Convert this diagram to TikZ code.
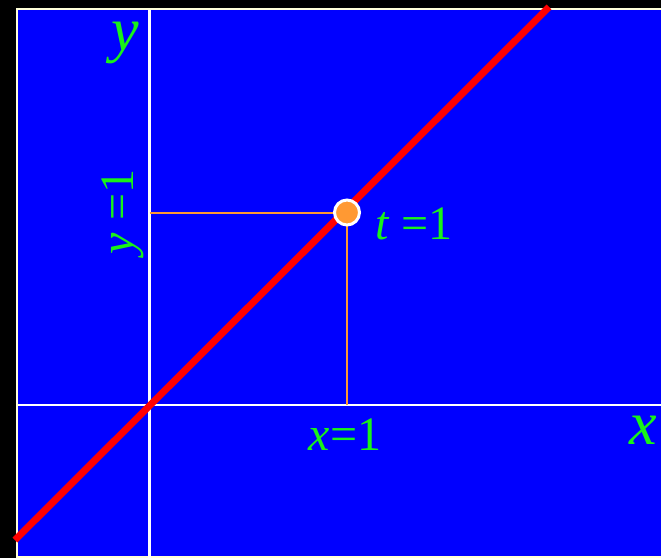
\documentclass[tikz,border=0pt]{standalone}
\usepackage{fontspec}
\setmainfont{Liberation Serif}
\usetikzlibrary{positioning}
\definecolor{PlaneBlue}{rgb}{0,0,1}
\definecolor{LabelGreen}{rgb}{0.1,0.95,0.1}
\definecolor{GuideOrange}{rgb}{1,0.6,0.2}
\definecolor{EdgeCream}{rgb}{1,1,0.85}

\begin{document}
\begin{tikzpicture}[
    x=1pt, y=-1pt,
    axis/.style={draw=white, line width=2.5pt},
    guide/.style={draw=GuideOrange, line width=2pt},
    dot/.style={circle, fill=GuideOrange, draw=white, line width=3pt, minimum size=25pt, inner sep=0pt},
    label/.style={text=LabelGreen, inner sep=0pt, font=\fontsize{48}{56}\selectfont},
    axislabel/.style={text=LabelGreen, inner sep=0pt, font=\fontsize{62}{70}\selectfont\itshape},
]
\useasboundingbox (0,0) rectangle (661,558);
\fill[black] (0,0) rectangle (661,558);

% ---- plane ----
\draw[EdgeCream, line width=2pt, fill=PlaneBlue] (17,9) rectangle (670,557);

% axes
\coordinate (xl) at (18,405);
\coordinate (xr) at (661,405);
\coordinate (yt) at (149.5,10);
\coordinate (yb) at (149.5,558);
\draw[axis] (xl) -- (xr);
\draw[axis] (yt) -- (yb);

% ---- guides to the point ----
\coordinate (pc) at (347,212.5);
\coordinate (px) at (347,405);
\coordinate (py) at (149.5,212.5);
\draw[guide] (py) -- (pc);
\draw[guide] (px) -- (pc);

% ---- line ----
\coordinate (lo) at (15,540);
\coordinate (hi) at (549,7);
\draw[red, line width=7pt] (lo) -- (hi);
\node[dot] (pt) at (pc) {};

% ---- labels ----
\node[label, anchor=base west] (tlab) at (375,239) {\textit{t} =1};
\node[label, anchor=base] (xone) at (345,450) {\textit{x}=1};
\node[label, anchor=base, rotate=90] (yone) at (133,212) {\textit{y} =1};
\node[axislabel, anchor=base] (ylab) at (125,50) {y};
\node[axislabel, anchor=base] (xlab) at (643,444) {x};

\end{tikzpicture}
\end{document}
